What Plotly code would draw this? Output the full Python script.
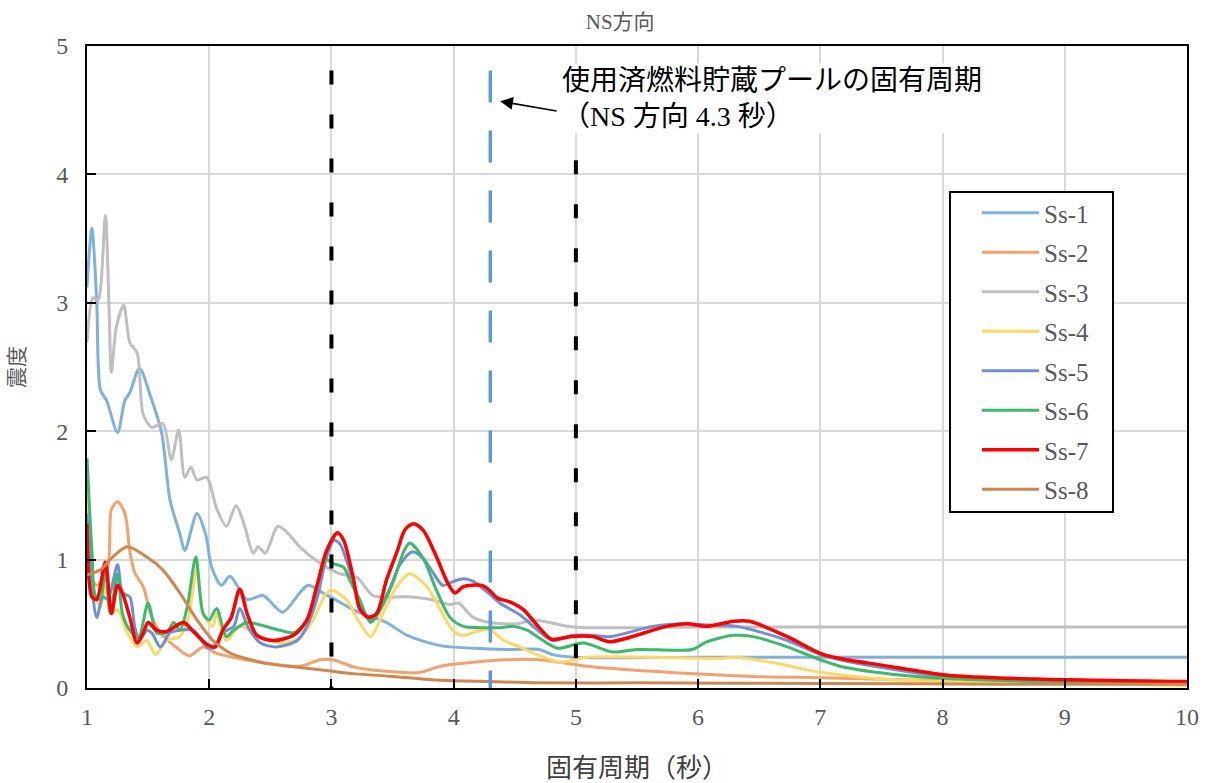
import plotly.graph_objects as go

# Natural period (s) and seismic intensity for each input motion
t_ss1 = [1.0, 1.04, 1.08, 1.11, 1.16, 1.25, 1.31, 1.35, 1.43, 1.52, 1.61, 1.68, 1.76, 1.80, 1.90, 1.97,
         2.02, 2.10, 2.17, 2.31, 2.44, 2.60, 2.74, 2.81, 2.93, 3.01, 3.20, 3.45, 3.62, 3.89, 4.16, 4.43,
         4.70, 4.81, 4.98, 6.0, 7.0, 8.0, 9.0, 10.0]
v_ss1 = [3.12, 3.58, 3.00, 2.32, 2.24, 1.99, 2.24, 2.30, 2.49, 2.27, 1.99, 1.46, 1.20, 1.07, 1.36, 1.20,
         0.94, 0.80, 0.87, 0.69, 0.72, 0.59, 0.74, 0.80, 0.74, 0.70, 0.60, 0.51, 0.41, 0.33, 0.31, 0.30,
         0.30, 0.26, 0.24, 0.24, 0.24, 0.24, 0.24, 0.24]

t_ss2 = [1.0, 1.08, 1.17, 1.20, 1.25, 1.31, 1.35, 1.39, 1.46, 1.52, 1.60, 1.74, 1.84, 1.95, 2.06, 2.30,
         2.50, 2.74, 2.91, 3.01, 3.20, 3.45, 3.72, 3.89, 4.16, 4.43, 4.70, 4.87, 5.09, 5.63, 6.45, 7.0,
         7.9, 9.0, 10.0]
v_ss2 = [0.95, 0.80, 0.94, 1.39, 1.45, 1.36, 1.07, 0.90, 0.79, 0.58, 0.43, 0.31, 0.25, 0.32, 0.27, 0.22,
         0.19, 0.17, 0.22, 0.22, 0.16, 0.13, 0.12, 0.17, 0.20, 0.22, 0.22, 0.20, 0.17, 0.13, 0.09, 0.08,
         0.06, 0.05, 0.04]

t_ss3 = [1.0, 1.05, 1.09, 1.15, 1.18, 1.20, 1.24, 1.30, 1.35, 1.41, 1.46, 1.53, 1.62, 1.69, 1.75, 1.80,
         1.85, 1.90, 1.98, 2.06, 2.14, 2.22, 2.29, 2.36, 2.40, 2.46, 2.56, 2.63, 2.74, 2.91, 3.07, 3.21,
         3.34, 3.62, 3.81, 3.97, 4.04, 4.16, 4.30, 4.52, 4.65, 4.98, 6.0, 7.0, 8.0, 9.0, 10.0]
v_ss3 = [2.69, 3.04, 3.02, 3.68, 2.97, 2.46, 2.81, 2.98, 2.69, 2.61, 2.13, 2.03, 2.06, 1.78, 2.01, 1.64,
         1.72, 1.62, 1.64, 1.40, 1.26, 1.42, 1.26, 1.05, 1.10, 1.05, 1.26, 1.22, 1.10, 0.97, 0.89, 0.86,
         0.72, 0.71, 0.69, 0.65, 0.66, 0.55, 0.51, 0.50, 0.53, 0.475, 0.475, 0.475, 0.475, 0.475, 0.475]

t_ss4 = [1.0, 1.05, 1.11, 1.15, 1.20, 1.25, 1.33, 1.41, 1.49, 1.56, 1.65, 1.76, 1.83, 1.90, 1.95, 2.03,
         2.06, 2.14, 2.25, 2.42, 2.58, 2.74, 2.85, 2.96, 3.01, 3.12, 3.23, 3.32, 3.42, 3.54, 3.64, 3.78,
         3.89, 4.00, 4.08, 4.22, 4.30, 4.41, 4.54, 4.68, 4.87, 4.98, 5.09, 5.63, 6.18, 6.32, 6.65, 7.01,
         7.67, 8.77, 10.0]
v_ss4 = [1.57, 0.79, 0.63, 0.79, 0.58, 0.61, 0.43, 0.32, 0.37, 0.26, 0.37, 0.40, 0.55, 0.94, 0.58, 0.48,
         0.58, 0.37, 0.48, 0.40, 0.35, 0.39, 0.53, 0.74, 0.76, 0.69, 0.51, 0.40, 0.58, 0.80, 0.89, 0.79,
         0.61, 0.44, 0.41, 0.45, 0.45, 0.37, 0.32, 0.26, 0.20, 0.22, 0.24, 0.24, 0.23, 0.24, 0.19, 0.12,
         0.06, 0.04, 0.02]

t_ss5 = [1.0, 1.04, 1.08, 1.13, 1.17, 1.25, 1.29, 1.35, 1.39, 1.43, 1.49, 1.53, 1.60, 1.68, 1.76, 1.87,
         1.98, 2.03, 2.11, 2.20, 2.25, 2.32, 2.42, 2.55, 2.72, 2.80, 2.88, 2.96, 3.02, 3.07, 3.18, 3.26,
         3.32, 3.40, 3.48, 3.56, 3.66, 3.75, 3.83, 3.91, 4.00, 4.08, 4.16, 4.27, 4.38, 4.54, 4.70, 4.81,
         4.98, 5.14, 5.28, 5.63, 5.91, 6.07, 6.32, 6.73, 7.00, 7.16, 7.50, 8.0, 9.0, 10.0]
v_ss5 = [1.36, 0.79, 0.55, 0.71, 0.69, 0.96, 0.74, 0.71, 0.48, 0.37, 0.45, 0.43, 0.32, 0.43, 0.45, 0.45,
         0.32, 0.31, 0.43, 0.48, 0.62, 0.47, 0.35, 0.32, 0.37, 0.48, 0.69, 1.02, 1.15, 1.12, 0.82, 0.59,
         0.53, 0.63, 0.78, 0.96, 1.06, 1.01, 0.90, 0.80, 0.83, 0.85, 0.83, 0.75, 0.66, 0.57, 0.44, 0.37,
         0.41, 0.41, 0.40, 0.48, 0.50, 0.49, 0.48, 0.37, 0.26, 0.22, 0.16, 0.09, 0.05, 0.04]

t_ss6 = [1.0, 1.04, 1.07, 1.11, 1.15, 1.19, 1.25, 1.29, 1.35, 1.42, 1.50, 1.57, 1.65, 1.71, 1.76, 1.82,
         1.89, 1.95, 2.00, 2.06, 2.14, 2.20, 2.31, 2.42, 2.58, 2.69, 2.80, 2.88, 2.96, 3.01, 3.10, 3.15,
         3.23, 3.32, 3.40, 3.51, 3.59, 3.64, 3.75, 3.86, 3.97, 4.08, 4.22, 4.38, 4.49, 4.60, 4.70, 4.85,
         5.06, 5.30, 5.50, 5.95, 6.07, 6.29, 6.45, 6.73, 7.00, 7.16, 7.67, 8.40, 10.0]
v_ss6 = [1.79, 1.07, 0.71, 0.69, 0.92, 0.58, 0.89, 0.58, 0.45, 0.39, 0.66, 0.43, 0.43, 0.51, 0.45, 0.63,
         1.02, 0.58, 0.53, 0.62, 0.40, 0.45, 0.51, 0.49, 0.45, 0.43, 0.53, 0.79, 1.00, 0.97, 0.94, 0.84,
         0.69, 0.51, 0.61, 0.84, 1.06, 1.13, 1.01, 0.76, 0.55, 0.48, 0.47, 0.47, 0.48, 0.45, 0.39, 0.31,
         0.35, 0.28, 0.30, 0.30, 0.36, 0.41, 0.40, 0.32, 0.22, 0.17, 0.10, 0.06, 0.04]

t_ss7 = [1.0, 1.04, 1.08, 1.15, 1.20, 1.25, 1.29, 1.35, 1.41, 1.46, 1.50, 1.57, 1.65, 1.79, 1.87, 1.98,
         2.05, 2.11, 2.18, 2.25, 2.31, 2.39, 2.52, 2.69, 2.80, 2.88, 2.96, 3.05, 3.10, 3.18, 3.23, 3.30,
         3.37, 3.45, 3.54, 3.60, 3.67, 3.75, 3.86, 3.95, 4.01, 4.08, 4.22, 4.27, 4.36, 4.46, 4.57, 4.70,
         4.80, 4.95, 5.14, 5.28, 5.74, 5.91, 6.07, 6.29, 6.42, 6.73, 7.00, 7.16, 7.49, 8.04, 8.77, 10.0]
v_ss7 = [1.28, 0.71, 0.69, 0.98, 0.58, 0.80, 0.74, 0.55, 0.35, 0.43, 0.51, 0.45, 0.44, 0.51, 0.44, 0.34,
         0.32, 0.45, 0.55, 0.77, 0.58, 0.41, 0.37, 0.41, 0.53, 0.79, 1.07, 1.21, 1.15, 0.85, 0.62, 0.55,
         0.58, 0.84, 1.07, 1.23, 1.28, 1.23, 1.02, 0.82, 0.74, 0.79, 0.80, 0.78, 0.70, 0.67, 0.61, 0.47,
         0.38, 0.40, 0.40, 0.36, 0.48, 0.50, 0.48, 0.52, 0.52, 0.40, 0.27, 0.23, 0.18, 0.10, 0.07, 0.05]

t_ss8 = [1.0, 1.11, 1.21, 1.33, 1.49, 1.62, 1.76, 1.90, 2.03, 2.14, 2.20, 2.47, 2.74, 3.01, 3.20, 3.50,
         3.89, 4.30, 4.70, 5.5, 7.0, 8.5, 10.0]
v_ss8 = [0.88, 0.92, 1.02, 1.10, 1.02, 0.92, 0.74, 0.53, 0.37, 0.29, 0.26, 0.19, 0.16, 0.13, 0.11, 0.09,
         0.06, 0.05, 0.04, 0.04, 0.035, 0.03, 0.03]

series_names = ["Ss-1", "Ss-2", "Ss-3", "Ss-4", "Ss-5", "Ss-6", "Ss-7", "Ss-8"]
series_t = [t_ss1, t_ss2, t_ss3, t_ss4, t_ss5, t_ss6, t_ss7, t_ss8]
series_v = [v_ss1, v_ss2, v_ss3, v_ss4, v_ss5, v_ss6, v_ss7, v_ss8]
series_colors = ["#7eb0e0", "#f3a26e", "#bfbfbf", "#ffd766", "#6f8fd2", "#3cb96b", "#ff0000", "#d0864f"]
series_widths = [3, 3, 3, 3, 3, 3, 3.5, 3]

x_ticks = [1, 2, 3, 4, 5, 6, 7, 8, 9, 10]
y_ticks = [0, 1, 2, 3, 4, 5]

# Reference periods marked on the chart
pool_period = 4.3
band_periods = [3, 5]
band_tops = [4.81, 4.11]

num_font = "Liberation Serif, Noto Sans CJK JP, serif"
cjk_font = "Liberation Serif, Noto Sans CJK JP, sans-serif"

fig = go.Figure()
for name, t, v, c, w in zip(series_names, series_t, series_v, series_colors, series_widths):
    fig.add_trace(go.Scatter(
        x=t, y=v, name=name, mode="lines",
        line=dict(color=c, width=w, shape="spline", smoothing=0.8),
        legendgroup=name,
    ))

# Dashed vertical reference lines
for bp, top in zip(band_periods, band_tops):
    fig.add_shape(type="line", xref="x", yref="y", x0=bp, x1=bp, y0=top, y1=0,
                  line=dict(color="black", width=4, dash="14px,30px"))
fig.add_shape(type="line", xref="x", yref="y", x0=pool_period, x1=pool_period, y0=4.81, y1=0,
              line=dict(color="#5b9bd5", width=3.5, dash="32px,28px"))

# Framed white panel behind the legend entries
fig.add_shape(type="rect", xref="paper", yref="paper",
              x0=(950 - 87) / 1100, x1=(1113 - 87) / 1100,
              y0=(688 - 512) / 642, y1=(688 - 192) / 642,
              fillcolor="white", line=dict(color="black", width=2), layer="above")

# Callout for the pool's natural period
fig.add_annotation(
    xref="x", yref="y", x=4.87, y=4.87, xanchor="left", yanchor="top",
    text="使用済燃料貯蔵プールの固有周期<br>（NS 方向 4.3 秒）",
    showarrow=False, align="left", bgcolor="white",
    font=dict(family=cjk_font, size=28, color="black"),
)
fig.add_annotation(
    xref="x", yref="y", x=4.38, y=4.57, ax=58, ay=10, axref="pixel", ayref="pixel",
    text="", showarrow=True, arrowhead=2, arrowsize=1.6, arrowwidth=1.6, arrowcolor="black",
)

fig.update_layout(
    width=1216, height=783,
    margin=dict(l=87, r=29, t=46, b=95),
    paper_bgcolor="white", plot_bgcolor="white",
    title=dict(text="NS方向", xref="container", yref="container", x=0.51, y=0.972,
               xanchor="center", yanchor="middle",
               font=dict(family=cjk_font, size=21, color="#595959")),
    showlegend=True,
    legend=dict(
        x=(977 - 87) / 1100, y=(688 - 190) / 642, xanchor="left", yanchor="top",
        bgcolor="rgba(0,0,0,0)", borderwidth=0,
        font=dict(family=num_font, size=25, color="#595959"),
        tracegroupgap=4, itemwidth=57,
    ),
    xaxis=dict(
        range=[1, 10], tickvals=x_ticks, ticktext=[str(v) for v in x_ticks],
        showgrid=True, gridcolor="#d9d9d9", gridwidth=2,
        showline=True, linecolor="black", linewidth=2, mirror=True,
        ticks="inside", ticklen=9, tickwidth=2, tickcolor="black",
        tickfont=dict(family=num_font, size=24, color="#595959"),
        ticklabelstandoff=6, automargin=False,
        title=dict(text="固有周期（秒）", font=dict(family=cjk_font, size=26, color="#404040"), standoff=30),
        zeroline=False,
    ),
    yaxis=dict(
        range=[0, 5], tickvals=y_ticks, ticktext=[str(v) for v in y_ticks],
        showgrid=True, gridcolor="#d9d9d9", gridwidth=2,
        showline=True, linecolor="black", linewidth=2, mirror=True,
        ticks="inside", ticklen=9, tickwidth=2, tickcolor="black",
        tickfont=dict(family=num_font, size=24, color="#595959"),
        ticklabelstandoff=12, automargin=False,
        title=dict(text="震度", font=dict(family=cjk_font, size=21, color="#595959"), standoff=26),
        zeroline=False,
    ),
)

fig.write_html("out.html")
